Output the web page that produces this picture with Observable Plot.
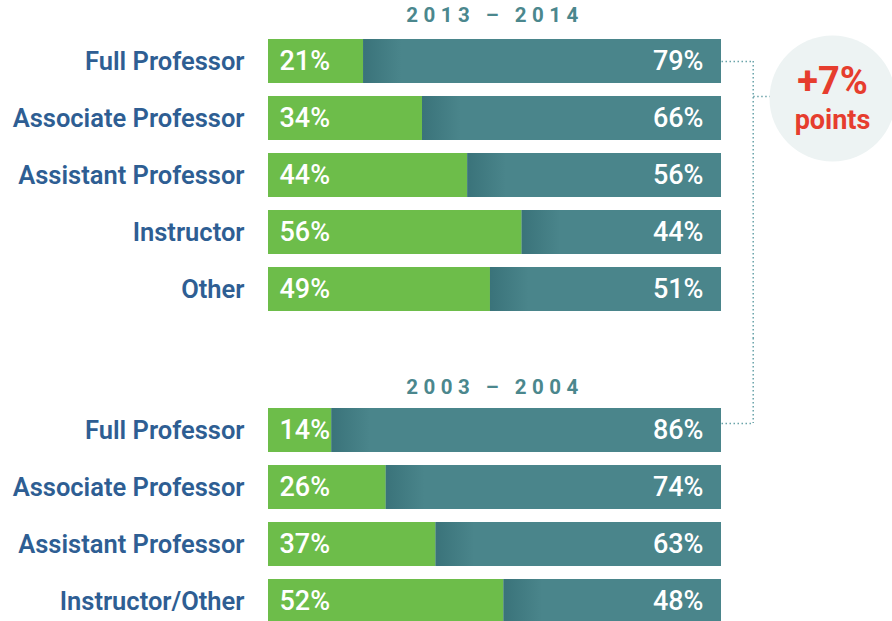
<!DOCTYPE html>
<html><head><meta charset="utf-8">
<script src="https://cdn.jsdelivr.net/npm/d3@7"></script>
<script src="https://cdn.jsdelivr.net/npm/@observablehq/plot@0.6"></script>
<style>
body{margin:0;background:#fff;}
#chart svg{display:block;}
</style></head><body><div id="chart"></div>
<script>
// ---- data ----
const periods = ["2013 – 2014", "2003 – 2004"];
const categories2014 = ["Full Professor","Associate Professor","Assistant Professor","Instructor","Other"];
const women2014 = [21, 34, 44, 56, 49];
const men2014 = [79, 66, 56, 44, 51];
const categories2004 = ["Full Professor","Associate Professor","Assistant Professor","Instructor/Other"];
const women2004 = [14, 26, 37, 52];
const men2004 = [86, 74, 63, 48];
const changeLabel = ["+7%", "points"];

// ---- styling ----
const GREEN = "#6dbd4a", TEAL = "#4a858b", DARK = "#3a737a", BLUE = "#2e5e93", RED = "#e63d2e", HEAD = "#4b878d", DOT = "#6aa3a9";
const FONT = "Roboto, 'Open Sans', sans-serif";
const connectorX = 107, branchX = 110.8;

function defs(id) {
  return () => {
    const s = d3.create("svg:defs");
    const g = s.append("linearGradient").attr("id", id);
    g.append("stop").attr("offset", 0).attr("stop-color", DARK);
    g.append("stop").attr("offset", 1).attr("stop-color", TEAL);
    return s.node();
  };
}

function panel({cats, left, right, header, height, marginTop, marginBottom, headerDy, gid, extra}) {
  const rows = cats.map((c, i) => ({cat: c, a: left[i], b: right[i]}));
  const svg = Plot.plot({
    width: 892, height, marginLeft: 268, marginRight: 171, marginTop, marginBottom,
    x: {domain: [0, 100], axis: null},
    y: {domain: cats, axis: null, paddingInner: 13 / 57, paddingOuter: 6.5 / 57},
    style: {fontFamily: FONT, overflow: "visible", background: "transparent"},
    marks: [
      defs(gid),
      ...extra(rows),
      Plot.barX(rows, {y: "cat", x1: 0, x2: "a", fill: GREEN}),
      Plot.barX(rows, {y: "cat", x1: "a", x2: 100, fill: TEAL}),
      Plot.barX(rows, {y: "cat", x1: "a", x2: d => d.a + 8.5, fill: `url(#${gid})`}),
      Plot.text(rows, {y: "cat", x: 0, text: d => d.a + "%", textAnchor: "start", dx: 11, fill: "white", fontSize: 27, fontWeight: 500}),
      Plot.text(rows, {y: "cat", x: 100, text: d => d.b + "%", textAnchor: "end", dx: -18, fill: "white", fontSize: 27, fontWeight: 500}),
      Plot.text(rows, {y: "cat", x: 0, text: "cat", textAnchor: "end", dx: -24, fill: BLUE, fontSize: 25.5, fontWeight: 600}),
      Plot.text([header], {x: () => 50, text: d => d, frameAnchor: "top", lineAnchor: "middle", dy: headerDy, fill: HEAD, fontSize: 20.5, fontWeight: 700})
    ]
  });
  d3.select(svg).selectAll("text").filter(function() { return periods.includes(this.textContent); })
    .style("letter-spacing", "5.5px");
  return svg;
}

const dotted = {stroke: DOT, strokeWidth: 1.5, strokeDasharray: "1.5,2.5"};

const p1 = panel({
  cats: categories2014, left: women2014, right: men2014, header: periods[0],
  height: 338, marginTop: 32.5, marginBottom: 20.5, headerDy: -17.5, gid: "shade1",
  extra: rows => [
    Plot.link(rows.slice(0, 1), {y1: "cat", y2: "cat", x1: () => 100, x2: () => connectorX, ...dotted}),
    Plot.ruleX([connectorX], {insetTop: 28.5, insetBottom: -20.5, ...dotted}),
    Plot.link(rows.slice(1, 2), {y1: "cat", y2: "cat", x1: () => connectorX, x2: () => branchX, dy: -22, ...dotted}),
    Plot.dot(rows.slice(1, 2), {x: () => 100, y: "cat", dx: 111, dy: -20, r: 63, fill: "#edf3f3"}),
    Plot.text(rows.slice(1, 2), {x: () => 100, y: "cat", dx: 111, dy: -37, text: () => changeLabel[0], fill: RED, fontSize: 38, fontWeight: 700}),
    Plot.text(rows.slice(1, 2), {x: () => 100, y: "cat", dx: 111, dy: 2, text: () => changeLabel[1], fill: RED, fontSize: 27, fontWeight: 700})
  ]
});

const p2 = panel({
  cats: categories2004, left: women2004, right: men2004, header: periods[1],
  height: 291.5, marginTop: 63.5, marginBottom: 0, headerDy: -14.5, gid: "shade2",
  extra: rows => [
    Plot.link(rows.slice(0, 1), {y1: "cat", y2: "cat", x1: () => 100, x2: () => connectorX, dy: -7, ...dotted}),
    Plot.ruleX([connectorX], {insetTop: -63.5, insetBottom: 206.5, ...dotted})
  ]
});

document.getElementById("chart").append(p1, p2);
</script>
</body></html>
